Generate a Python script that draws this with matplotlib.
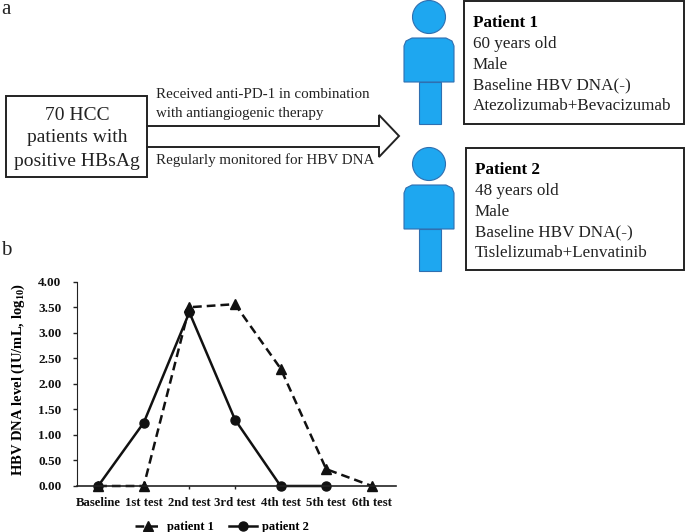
import matplotlib
matplotlib.use('Agg')
import matplotlib.pyplot as plt
from matplotlib.patches import Circle, Polygon, Rectangle

plt.rcParams['font.family'] = 'Liberation Serif'
plt.rcParams['mathtext.fontset'] = 'custom'
plt.rcParams['mathtext.bf'] = 'Liberation Serif:bold'

tests = ['Baseline', '1st test', '2nd test', '3rd test', '4th test', '5th test', '6th test']
patient_1 = [0, 0, 3.50, 3.56, 2.30, 0.33, 0]
patient_2 = [0, 1.24, 3.40, 1.30, 0, 0]
y_ticks = [0, 0.5, 1, 1.5, 2, 2.5, 3, 3.5, 4]

W, H = 685, 532
fig = plt.figure(figsize=(W / 100, H / 100), dpi=100)

# panel a is drawn in pixel coordinates
bg = fig.add_axes([0, 0, 1, 1])
bg.set_xlim(0, W)
bg.set_ylim(H, 0)
bg.axis('off')

BLUE = '#1ea7f0'
EDGE = '#2f6fb0'


def person(top):
    bg.add_patch(Circle((429, top + 17), 16.5, fc=BLUE, ec=EDGE, lw=0.8))
    bg.add_patch(Rectangle((419, top + 82), 22, 42, fc=BLUE, ec=EDGE, lw=0.8))
    bg.add_patch(Polygon([(404, top + 82), (404, top + 46), (406, top + 41), (412, top + 38), (446, top + 38),
                          (452, top + 41), (454, top + 46), (454, top + 82)], closed=True, fc=BLUE, ec=EDGE, lw=0.8))


person(0)
person(147)

bg.add_patch(Rectangle((6, 96), 141, 81, fc='white', ec='#222222', lw=1.4))
bg.add_patch(Rectangle((464, 1), 220, 123, fc='white', ec='#222222', lw=1.4))
bg.add_patch(Rectangle((466, 148), 218, 122, fc='white', ec='#222222', lw=1.4))
bg.plot([147, 379, 379, 399, 379, 379, 147], [126, 126, 115, 136, 157, 147, 147], color='#222222', lw=1.4,
        solid_joinstyle='miter')

col = '#222222'
bg.text(1, 0, 'a', fontsize=15, va='top', color=col)
bg.text(1, 241, 'b', fontsize=15, va='top', color=col)
for y, s in zip([115, 138, 162], ['70 HCC', 'patients with', 'positive HBsAg']):
    bg.text(77, y, s, fontsize=14, ha='center', va='center', color=col)
bg.text(156, 95, 'Received anti-PD-1 in combination', fontsize=10.8, va='center', color=col)
bg.text(156, 113, 'with antiangiogenic therapy', fontsize=10.8, va='center', color=col)
bg.text(156, 160, 'Regularly monitored for HBV DNA', fontsize=10.8, va='center', color=col)

lines_1 = ['60 years old', 'Male', 'Baseline HBV DNA(-)', 'Atezolizumab+Bevacizumab']
lines_2 = ['48 years old', 'Male', 'Baseline HBV DNA(-)', 'Tislelizumab+Lenvatinib']
bg.text(473, 23, 'Patient 1', fontsize=12.3, fontweight='bold', va='center', color='black')
for i, s in enumerate(lines_1):
    bg.text(473, 44 + i * 20.7, s, fontsize=12.3, va='center', color=col)
bg.text(475, 170, 'Patient 2', fontsize=12.3, fontweight='bold', va='center', color='black')
for i, s in enumerate(lines_2):
    bg.text(475, 191 + i * 20.7, s, fontsize=12.3, va='center', color=col)

# panel b
ax = fig.add_axes([76.7 / W, 1 - 486 / H, 319.3 / W, 204.3 / H])
ax.patch.set_alpha(0)
x = list(range(len(tests)))
ax.plot(x, patient_1, color='#111111', ls=(0, (3.5, 2)), lw=1.8, marker='^', ms=6.5, label='patient 1', clip_on=False)
ax.plot(x[:len(patient_2)], patient_2, color='#111111', lw=1.8, marker='o', ms=6.5, label='patient 2', clip_on=False)
ax.set_xlim(-0.47, 6.53)
ax.set_ylim(0, 4)
ax.set_xticks(x)
ax.set_xticklabels(tests, fontsize=9.2, fontweight='bold')
ax.set_yticks(y_ticks)
ax.set_yticklabels(['%.2f' % v for v in y_ticks], fontsize=9.5, fontweight='bold')
ax.tick_params(axis='x', length=2, width=1, pad=6, color='#222222', labelcolor='#111111')
ax.tick_params(axis='y', length=3, width=1, pad=8, color='#222222', labelcolor='#111111')
ax.spines['top'].set_visible(False)
ax.spines['right'].set_visible(False)
ax.spines['left'].set_color('#222222')
ax.spines['bottom'].set_color('#222222')
ax.spines['bottom'].set_linewidth(1.2)
ax.set_ylabel('HBV DNA level (IU/mL, log$_{\\mathbf{10}}$)', fontsize=10.5, fontweight='bold', labelpad=8, y=0.52)
ax.legend(loc='upper center', bbox_to_anchor=(0.4535, -0.118), ncol=2, frameon=False, prop={'size': 9, 'weight': 'bold'},
          handlelength=2.2, columnspacing=1.2, handletextpad=0.4)

fig.savefig('out.png', dpi=100)
